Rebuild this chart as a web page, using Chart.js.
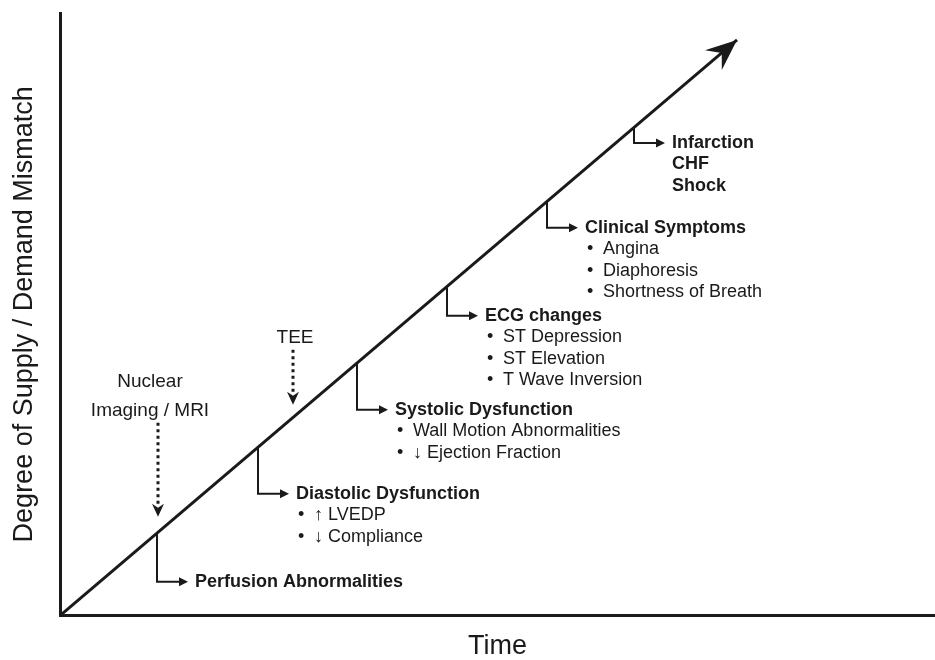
<!DOCTYPE html>
<html>
<head>
<meta charset="utf-8">
<script src="https://cdn.jsdelivr.net/npm/chart.js@4.4.1/dist/chart.umd.min.js"></script>
<style>
  html, body { margin: 0; background: #fff; }
  #wrap { width: 935px; height: 660px; position: relative; }
</style>
</head>
<body>
<div id="wrap"><canvas id="cascade"></canvas></div>
<script>
// ischemic cascade: stages along the supply/demand line
const stageNames = ['Perfusion Abnormalities', 'Diastolic Dysfunction', 'Systolic Dysfunction', 'ECG changes', 'Clinical Symptoms', 'Infarction'];
const stageItems = [
    [],
    ['↑ LVEDP', '↓ Compliance'],
    ['Wall Motion Abnormalities', '↓ Ejection Fraction'],
    ['ST Depression', 'ST Elevation', 'T Wave Inversion'],
    ['Angina', 'Diaphoresis', 'Shortness of Breath'],
    ['CHF', 'Shock']
];
const stageTime = [97, 198, 297, 387, 487, 574];
const stageLevel = [83, 168, 253, 330, 414, 488];

// the main trend line
const trendTime = [0, 677];
const trendLevel = [0, 576];

// imaging modalities (dotted arrows)
const monitorNames = [['Nuclear', 'Imaging / MRI'], ['TEE']];
const monitorTime = [98, 233];
const monitorTop = [193, 266];
const monitorTip = [99, 211];

// drawing styles (pixels)
const branchDrop = [49, 46, 47, 30, 26, 15];
const armLen = 31;
const ink = '#1a1a1a';
const font = '"Liberation Sans", Arial, sans-serif';

function arrowHead(ctx, x, y, ang, len, half, notch) {
    const c = Math.cos(ang), s = Math.sin(ang);
    ctx.beginPath();
    ctx.moveTo(x, y);
    ctx.lineTo(x - len * c - half * s, y - len * s + half * c);
    ctx.lineTo(x - notch * c, y - notch * s);
    ctx.lineTo(x - len * c + half * s, y - len * s - half * c);
    ctx.closePath();
    ctx.fill();
}

const cascadePlugin = {
    id: 'cascade',
    afterDatasetsDraw(chart) {
        const ctx = chart.ctx;
        const xs = chart.scales.x, ys = chart.scales.y;
        ctx.save();
        ctx.fillStyle = ink;
        ctx.strokeStyle = ink;

        // big arrow head at the end of the trend line
        const x0 = xs.getPixelForValue(trendTime[0]), y0 = ys.getPixelForValue(trendLevel[0]);
        const x1 = xs.getPixelForValue(trendTime[1]), y1 = ys.getPixelForValue(trendLevel[1]);
        arrowHead(ctx, x1, y1, Math.atan2(y1 - y0, x1 - x0), 31, 13, 20);

        // stage branches
        ctx.lineWidth = 2;
        ctx.textBaseline = 'middle';
        stageNames.forEach((name, i) => {
            const px = xs.getPixelForValue(stageTime[i]);
            const py = ys.getPixelForValue(stageLevel[i]);
            const by = py + branchDrop[i];
            ctx.beginPath();
            ctx.moveTo(px, py);
            ctx.lineTo(px, by);
            ctx.lineTo(px + armLen - 4, by);
            ctx.stroke();
            arrowHead(ctx, px + armLen, by, 0, 9, 4.5, 9);

            const tx = px + armLen + 7;
            ctx.textAlign = 'left';
            ctx.font = 'bold 18px ' + font;
            ctx.fillText(name, tx, by);
            const bold = i === stageNames.length - 1;
            stageItems[i].forEach((item, k) => {
                const ty = by + 21.5 * (k + 1);
                if (bold) {
                    ctx.font = 'bold 18px ' + font;
                    ctx.fillText(item, tx, ty);
                } else {
                    ctx.font = '18px ' + font;
                    ctx.fillText('•', tx + 2, ty);
                    ctx.fillText(item, tx + 18, ty);
                }
            });
        });

        // dotted arrows for imaging
        monitorNames.forEach((lines, i) => {
            const mx = xs.getPixelForValue(monitorTime[i]);
            const top = ys.getPixelForValue(monitorTop[i]);
            const tip = ys.getPixelForValue(monitorTip[i]);
            ctx.lineWidth = 3;
            ctx.setLineDash([3, 3.5]);
            ctx.beginPath();
            ctx.moveTo(mx, top);
            ctx.lineTo(mx, tip - 10);
            ctx.stroke();
            ctx.setLineDash([]);
            arrowHead(ctx, mx, tip, Math.PI / 2, 13, 6, 9);

            ctx.font = '19px ' + font;
            ctx.textAlign = 'center';
            ctx.textBaseline = 'alphabetic';
            lines.forEach((t, k) => {
                ctx.fillText(t, mx - (lines.length > 1 ? 8 : -2), top - 7 - 29 * (lines.length - 1 - k));
            });
            ctx.textBaseline = 'middle';
        });
        ctx.restore();
    }
};

new Chart('cascade', {
    type: 'scatter',
    data: {
        datasets: [{
            data: trendTime.map((t, i) => ({ x: t, y: trendLevel[i] })),
            showLine: true,
            borderColor: ink,
            borderWidth: 3,
            pointRadius: 0,
            clip: false
        }]
    },
    options: {
        responsive: true,
        maintainAspectRatio: false,
        animation: false,
        layout: { padding: { top: 13, right: 0, left: 0, bottom: 0 } },
        plugins: { legend: { display: false }, tooltip: { enabled: false } },
        scales: {
            x: {
                type: 'linear', min: 0, max: 875,
                grid: { display: false, drawTicks: false },
                border: { display: true, color: ink, width: 3 },
                ticks: { display: false },
                title: { display: true, text: 'Time', color: ink, font: { size: 27, family: font }, padding: { top: 15, bottom: -3 } }
            },
            y: {
                type: 'linear', min: 0, max: 603,
                grid: { display: false, drawTicks: false },
                border: { display: true, color: ink, width: 3 },
                ticks: { display: false },
                title: { display: true, text: 'Degree of Supply / Demand Mismatch', color: ink, font: { size: 27, family: font }, padding: { top: 8, bottom: 19.6 } }
            }
        }
    },
    plugins: [cascadePlugin]
});
</script>
</body>
</html>
